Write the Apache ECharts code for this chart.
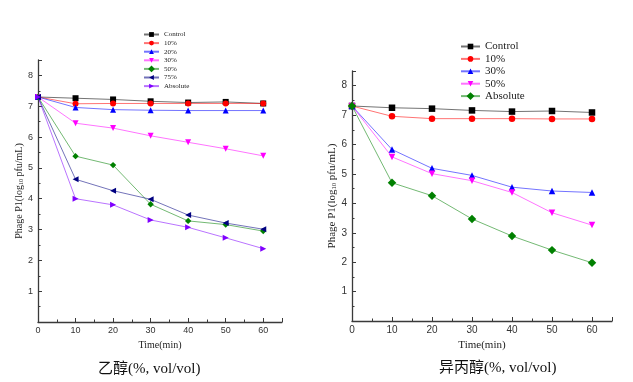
<!DOCTYPE html>
<html>
<head>
<meta charset="utf-8">
<script src="https://cdn.jsdelivr.net/npm/echarts@6/dist/echarts.min.js"></script>
<style>html,body{margin:0;padding:0;background:#fff}#c{width:633px;height:382px}</style>
</head>
<body>
<div id="c"></div>
<script>
// ---- data ----
const times = [0, 10, 20, 30, 40, 50, 60];
const xTicks = [0, 10, 20, 30, 40, 50, 60];
const yTicks = [1, 2, 3, 4, 5, 6, 7, 8];

const ethanolNames = ['Control', '10%', '20%', '30%', '50%', '75%', 'Absolute'];
const ethanolControl = [7.30, 7.26, 7.22, 7.16, 7.12, 7.14, 7.09];
const ethanol10 = [7.30, 7.08, 7.09, 7.09, 7.09, 7.09, 7.09];
const ethanol20 = [7.30, 6.96, 6.89, 6.87, 6.86, 6.86, 6.86];
const ethanol30 = [7.30, 6.45, 6.29, 6.04, 5.83, 5.62, 5.39];
const ethanol50 = [7.30, 5.38, 5.09, 3.82, 3.28, 3.16, 2.95];
const ethanol75 = [7.30, 4.63, 4.26, 3.98, 3.47, 3.21, 3.01];
const ethanolAbs = [7.30, 4.00, 3.80, 3.31, 3.07, 2.73, 2.38];

const ipaNames = ['Control', '10%', '30%', '50%', 'Absolute'];
const ipaControl = [7.31, 7.25, 7.22, 7.16, 7.12, 7.14, 7.09];
const ipa10 = [7.31, 6.96, 6.88, 6.88, 6.88, 6.87, 6.87];
const ipa30 = [7.31, 5.83, 5.19, 4.95, 4.55, 4.42, 4.37];
const ipa50 = [7.31, 5.58, 5.01, 4.77, 4.37, 3.68, 3.26];
const ipaAbs = [7.31, 4.70, 4.26, 3.47, 2.89, 2.41, 1.98];

const captionLeft = '乙醇(%, vol/vol)';
const captionRight = '异丙醇(%, vol/vol)';
const xName = 'Time(min)';

// ---- styles ----
const SERIF = '"Liberation Serif", "Times New Roman", serif';
const SANS = '"Liberation Sans", Arial, sans-serif';
const CJK = '"Liberation Serif", "Noto Sans CJK SC", serif';

const mk = {
  square: { symbol: 'rect', rot: 0 },
  circle: { symbol: 'circle', rot: 0 },
  up: { symbol: 'triangle', rot: 0 },
  down: { symbol: 'triangle', rot: 180 },
  diamond: { symbol: 'rect', rot: 45 },
  left: { symbol: 'triangle', rot: 90 },
  right: { symbol: 'triangle', rot: -90 }
};

function pairs(vals) { return times.map((t, i) => [t, vals[i]]); }

function mkSeries(name, vals, color, m, idx, size) {
  const isDiamond = m === mk.diamond;
  return {
    type: 'line',
    name: name,
    xAxisIndex: idx,
    yAxisIndex: idx,
    data: pairs(vals),
    symbol: m.symbol,
    symbolRotate: m.rot,
    symbolSize: isDiamond ? size - 1.5 : size,
    showAllSymbol: true,
    color: color,
    itemStyle: { color: color, opacity: 1 },
    lineStyle: { color: color, width: 1, opacity: 0.55 },
    emphasis: { disabled: true },
    animation: false
  };
}

const R = '\u200b';
const series = [
  mkSeries(ethanolNames[0], ethanolControl, '#000000', mk.square, 0, 6),
  mkSeries(ethanolNames[1], ethanol10, '#ff0000', mk.circle, 0, 6),
  mkSeries(ethanolNames[2], ethanol20, '#0000ff', mk.up, 0, 6),
  mkSeries(ethanolNames[3], ethanol30, '#ff00ff', mk.down, 0, 6),
  mkSeries(ethanolNames[4], ethanol50, '#008000', mk.diamond, 0, 6),
  mkSeries(ethanolNames[5], ethanol75, '#000080', mk.left, 0, 6),
  mkSeries(ethanolNames[6], ethanolAbs, '#8000ff', mk.right, 0, 6),
  mkSeries(ipaNames[0] + R, ipaControl, '#000000', mk.square, 1, 6.5),
  mkSeries(ipaNames[1] + R, ipa10, '#ff0000', mk.circle, 1, 6.5),
  mkSeries(ipaNames[2] + R, ipa30, '#0000ff', mk.up, 1, 6.5),
  mkSeries(ipaNames[3] + R, ipa50, '#ff00ff', mk.down, 1, 6.5),
  mkSeries(ipaNames[4] + R, ipaAbs, '#008000', mk.diamond, 1, 7.5)
];

function xAxis(idx, fs, nameFs) {
  return {
    type: 'value', gridIndex: idx, min: 0, max: 65, interval: 10,
    name: xName, nameLocation: 'middle', nameGap: fs + 9,
    nameTextStyle: { fontFamily: SERIF, fontSize: nameFs, color: '#222' },
    axisLine: { show: true, onZero: false, lineStyle: { color: '#3a3a3a', width: 1.3 } },
    axisTick: { show: true, inside: true, length: 4, lineStyle: { color: '#3a3a3a' } },
    minorTick: { show: true, splitNumber: 2, length: 2.5, lineStyle: { color: '#3a3a3a' } },
    axisLabel: { fontFamily: SANS, fontSize: fs, color: '#333', margin: 4, showMaxLabel: false,
      formatter: v => (xTicks.indexOf(v) >= 0 ? String(v) : '') },
    splitLine: { show: false }
  };
}
function yAxis(idx, fs, nameFs, gap) {
  return {
    type: 'value', gridIndex: idx, min: 0, max: 8.5, interval: 1,
    name: '{a|Phage P1(log}{s|10}{a| pfu/mL)}', nameLocation: 'middle', nameGap: gap,
    nameTextStyle: { rich: {
      a: { fontFamily: SERIF, fontSize: nameFs, color: '#222' },
      s: { fontFamily: SERIF, fontSize: nameFs * 0.6, color: '#222', verticalAlign: 'bottom', padding: [nameFs * 0.35, 0, 0, 0] }
    } },
    axisLine: { show: true, onZero: false, lineStyle: { color: '#3a3a3a', width: 1.3 } },
    axisTick: { show: true, inside: true, length: 4, lineStyle: { color: '#3a3a3a' } },
    minorTick: { show: true, splitNumber: 2, length: 2.5, lineStyle: { color: '#3a3a3a' } },
    axisLabel: { fontFamily: SANS, fontSize: fs, color: '#333', margin: 5, showMinLabel: false, showMaxLabel: false,
      formatter: v => (yTicks.indexOf(v) >= 0 ? String(v) : '') },
    splitLine: { show: false }
  };
}

const option = {
  backgroundColor: '#fff',
  animation: false,
  grid: [
    { left: 38, top: 60, width: 244, height: 262, containLabel: false },
    { left: 352, top: 71, width: 260, height: 250, containLabel: false }
  ],
  xAxis: [xAxis(0, 9, 10), xAxis(1, 10, 11)],
  yAxis: [yAxis(0, 9, 10, 14), yAxis(1, 10, 11, 14)],
  legend: [
    {
      data: ethanolNames, orient: 'vertical', left: 143, top: 31,
      padding: [0, 5, 0, 0],
      itemWidth: 15, itemHeight: 6, itemGap: 1.6,
      textStyle: { fontFamily: SERIF, fontSize: 7, color: '#222', lineHeight: 7 },
      selectedMode: false
    },
    {
      data: ipaNames.map(n => n + R), orient: 'vertical', left: 460, top: 41,
      padding: [0, 5, 0, 0],
      itemWidth: 19, itemHeight: 7, itemGap: 1.4,
      textStyle: { fontFamily: SERIF, fontSize: 11, color: '#222', lineHeight: 11 },
      formatter: n => n.replace(R, ''),
      selectedMode: false
    }
  ],
  graphic: [
    { type: 'text', left: 98, top: 362, style: { text: captionLeft, font: '15px ' + CJK, fill: '#111' } },
    { type: 'text', left: 439, top: 361, style: { text: captionRight, font: '15px ' + CJK, fill: '#111' } }
  ],
  series: series
};

const chart = echarts.init(document.getElementById('c'), null, { renderer: 'canvas' });
chart.setOption(option);
</script>
</body>
</html>
